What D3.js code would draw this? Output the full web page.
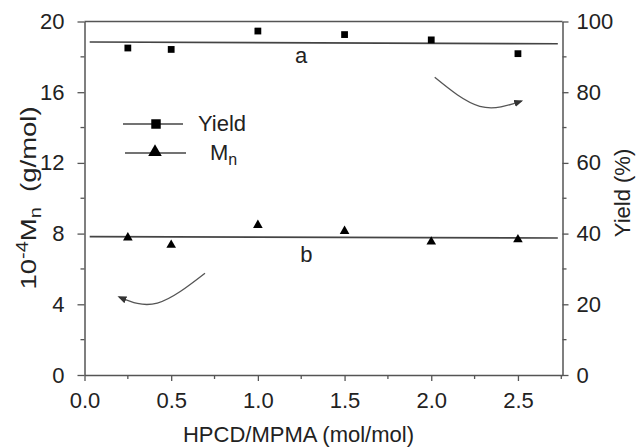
<!DOCTYPE html>
<html>
<head>
<meta charset="utf-8">
<script src="https://cdn.jsdelivr.net/npm/d3@7"></script>
<style>
  body { margin: 0; background: #fff; }
  svg text { font-family: "Liberation Sans", Arial, sans-serif; fill: #222; }
</style>
</head>
<body>
<svg width="636" height="448"></svg>
<script>
// data
var ratio = [0.25, 0.5, 1.0, 1.5, 2.0, 2.5];           // HPCD/MPMA (mol/mol)
var yieldPct = [92.5, 92.1, 97.3, 96.3, 94.8, 90.9];   // Yield (%)
var mn = [7.77, 7.35, 8.48, 8.14, 7.54, 7.67];         // 10^-4 Mn (g/mol)
var fitX = [0.03, 2.73];
var yieldFit = [94.2, 93.7];   // line a
var mnFit = [7.83, 7.75];      // line b
var xTicks = [0, 0.5, 1.0, 1.5, 2.0, 2.5];
var leftTicks = [0, 4, 8, 12, 16, 20];
var rightTicks = [0, 20, 40, 60, 80, 100];
// curved arrows, in (x, Mn) units
var arrowUp = [[2.02, 16.84], [2.28, 15.2], [2.52, 15.5]];
var arrowDown = [[0.695, 5.76], [0.42, 4.07], [0.2, 4.41]];

var svg = d3.select("svg");
var pLeft = 84.5, pRight = 562.5, pTop = 21.5, pBottom = 375;

var x = d3.scaleLinear().domain([0, 2.757]).range([pLeft, pRight]);
var yL = d3.scaleLinear().domain([0, 20]).range([pBottom, pTop]);
var yR = d3.scaleLinear().domain([0, 100]).range([pBottom, pTop]);

var axisColor = "#555";

// minor ticks
function minor(g, vals, fn) {
  g.selectAll(null).data(vals).enter().append("line")
    .each(fn).attr("stroke", axisColor).attr("stroke-width", 1.3);
}
var gm = svg.append("g");
minor(gm, d3.range(0.25, 2.76, 0.5), function(d) {
  d3.select(this).attr("x1", x(d)).attr("x2", x(d)).attr("y1", pBottom).attr("y2", pBottom + 4);
});
minor(gm, d3.range(2, 20, 4), function(d) {
  d3.select(this).attr("x1", pLeft).attr("x2", pLeft - 4).attr("y1", yL(d)).attr("y2", yL(d));
});
minor(gm, d3.range(10, 100, 20), function(d) {
  d3.select(this).attr("x1", pRight).attr("x2", pRight + 4).attr("y1", yR(d)).attr("y2", yR(d));
});

var xAxis = svg.append("g").attr("transform", "translate(0," + pBottom + ")")
  .call(d3.axisBottom(x).tickValues(xTicks).tickFormat(d3.format(".1f")).tickSize(6).tickPadding(11).tickSizeOuter(0));
var lAxis = svg.append("g").attr("transform", "translate(" + pLeft + ",0)")
  .call(d3.axisLeft(yL).tickValues(leftTicks).tickSize(7).tickPadding(13).tickSizeOuter(0));
var rAxis = svg.append("g").attr("transform", "translate(" + pRight + ",0)")
  .call(d3.axisRight(yR).tickValues(rightTicks).tickSize(6).tickPadding(8).tickSizeOuter(0));

[xAxis, lAxis, rAxis].forEach(function(g) {
  g.select(".domain").attr("stroke", axisColor).attr("stroke-width", 1.5);
  g.selectAll(".tick line").attr("stroke", axisColor).attr("stroke-width", 1.3);
  g.selectAll(".tick text").attr("font-size", 22).attr("fill", "#333")
    .style("font-family", "Liberation Sans, Arial, sans-serif");
});
// top frame
svg.append("line").attr("x1", pLeft).attr("x2", pRight).attr("y1", pTop).attr("y2", pTop)
  .attr("stroke", axisColor).attr("stroke-width", 1.5);

// fitted lines
var lineCol = "#444";
svg.append("path")
  .datum(fitX.map(function(d, i) { return [d, yieldFit[i]]; }))
  .attr("d", d3.line().x(function(d) { return x(d[0]); }).y(function(d) { return yR(d[1]); }))
  .attr("stroke", lineCol).attr("stroke-width", 1.6).attr("fill", "none");
svg.append("path")
  .datum(fitX.map(function(d, i) { return [d, mnFit[i]]; }))
  .attr("d", d3.line().x(function(d) { return x(d[0]); }).y(function(d) { return yL(d[1]); }))
  .attr("stroke", lineCol).attr("stroke-width", 1.6).attr("fill", "none");

// points
var sq = d3.symbol().type(d3.symbolSquare).size(46);
var tri = d3.symbol().type(d3.symbolTriangle).size(40);
svg.selectAll(".sq").data(ratio).enter().append("path")
  .attr("d", sq)
  .attr("transform", function(d, i) { return "translate(" + x(d) + "," + yR(yieldPct[i]) + ")"; })
  .attr("fill", "#000");
svg.selectAll(".tri").data(ratio).enter().append("path")
  .attr("d", tri)
  .attr("transform", function(d, i) { return "translate(" + x(d) + "," + yL(mn[i]) + ")"; })
  .attr("fill", "#000");

// line labels
svg.append("text").attr("x", x(1.25)).attr("y", yR(yieldFit[0]) + 21).attr("text-anchor", "middle")
  .attr("font-size", 22).text("a");
svg.append("text").attr("x", x(1.28)).attr("y", yL(mnFit[0]) + 25).attr("text-anchor", "middle")
  .attr("font-size", 22).text("b");

// arrows
svg.append("defs").append("marker")
  .attr("id", "head").attr("viewBox", "0 -5 10 10").attr("refX", 8).attr("refY", 0)
  .attr("markerWidth", 9).attr("markerHeight", 9).attr("markerUnits", "userSpaceOnUse")
  .attr("orient", "auto")
  .append("path").attr("d", "M0,-4L10,0L0,4Z").attr("fill", "#333");
var arc = d3.line().curve(d3.curveNatural)
  .x(function(d) { return x(d[0]); }).y(function(d) { return yL(d[1]); });
[arrowUp, arrowDown].forEach(function(pts) {
  svg.append("path").attr("d", arc(pts)).attr("fill", "none")
    .attr("stroke", "#555").attr("stroke-width", 1.3).attr("marker-end", "url(#head)");
});

// legend
var lg = svg.append("g");
lg.append("line").attr("x1", 123).attr("x2", 183).attr("y1", 124).attr("y2", 124)
  .attr("stroke", lineCol).attr("stroke-width", 1.6);
lg.append("path").attr("d", d3.symbol().type(d3.symbolSquare).size(90)).attr("transform", "translate(156,124)");
lg.append("text").attr("x", 198).attr("y", 131).attr("font-size", 22).text("Yield");
lg.append("line").attr("x1", 125).attr("x2", 186).attr("y1", 153).attr("y2", 153)
  .attr("stroke", lineCol).attr("stroke-width", 1.6);
lg.append("path").attr("d", d3.symbol().type(d3.symbolTriangle).size(80)).attr("transform", "translate(155,152)");
var mnT = lg.append("text").attr("x", 210).attr("y", 160).attr("font-size", 22);
mnT.append("tspan").text("M");
mnT.append("tspan").attr("font-size", 16).attr("dy", 5).text("n");

// axis titles
svg.append("text").attr("x", (pLeft + pRight) / 2 - 25).attr("y", 442).attr("text-anchor", "middle")
  .attr("font-size", 22).text("HPCD/MPMA (mol/mol)");
var yt = svg.append("text").attr("transform", "translate(36,198) rotate(-90) scale(1.25,1)")
  .attr("text-anchor", "middle").attr("font-size", 22);
yt.append("tspan").text("10");
yt.append("tspan").attr("font-size", 16).attr("dy", -8).text("-4");
yt.append("tspan").attr("dy", 8).text("M");
yt.append("tspan").attr("font-size", 16).attr("dy", 5).text("n");
yt.append("tspan").attr("dy", -5).text("\u00a0 (g/mol)");
svg.append("text").attr("transform", "translate(630,193) rotate(-90)")
  .attr("text-anchor", "middle").attr("font-size", 22).text("Yield (%)");
</script>
</body>
</html>
